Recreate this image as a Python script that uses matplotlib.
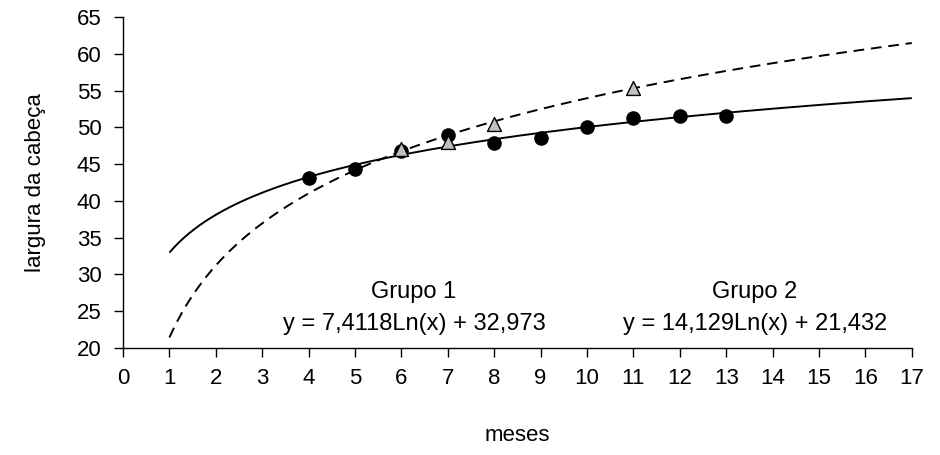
import numpy as np
import matplotlib
matplotlib.use("Agg")
import matplotlib.pyplot as plt

plt.rcParams['font.family'] = ['Liberation Sans', 'DejaVu Sans']

# Observed head widths by month
meses_g1 = [4, 5, 6, 7, 8, 9, 10, 11, 12, 13]
largura_g1 = [43.1, 44.4, 46.8, 49.0, 47.9, 48.6, 50.0, 51.3, 51.6, 51.6]
meses_g2 = [6, 7, 8, 11]
largura_g2 = [47.0, 48.0, 50.5, 55.3]

# Logarithmic trend coefficients: y = a*ln(x) + b
coef_g1 = (7.4118, 32.973)
coef_g2 = (14.129, 21.432)

x_ticks = list(range(0, 18))
y_ticks = list(range(20, 66, 5))

fig = plt.figure(figsize=(9.4, 4.55), dpi=100)
ax = fig.add_axes([0.1309, 0.2352, 0.970 - 0.1309, 0.9626 - 0.2352])

xs = np.linspace(1, 17, 300)
ax.plot(xs, coef_g1[0] * np.log(xs) + coef_g1[1], color='black', lw=1.4,
        solid_capstyle='butt', zorder=2)
ax.plot(xs, coef_g2[0] * np.log(xs) + coef_g2[1], color='black', lw=1.4,
        dashes=(5.5, 3.5), zorder=2)

ax.scatter(meses_g1, largura_g1, s=90, color='black', zorder=3)
ax.scatter(meses_g2, largura_g2, s=100, marker='^', facecolor='#c0c0c0',
           edgecolor='black', linewidths=1.0, zorder=4)

ax.set_xlim(0, 17)
ax.set_ylim(20, 65)
ax.set_xticks(x_ticks)
ax.set_yticks(y_ticks)
ax.tick_params(axis='both', labelsize=16, length=6.5, width=1.0, direction='out')
ax.tick_params(axis='x', pad=8)
ax.tick_params(axis='y', pad=9)
for side in ('top', 'right'):
    ax.spines[side].set_visible(False)
for side in ('left', 'bottom'):
    ax.spines[side].set_linewidth(1.0)

ax.set_xlabel('meses', fontsize=16, labelpad=26)
ax.set_ylabel('largura da cabeça', fontsize=16, labelpad=22)

ax.text(6.27, 26.8, 'Grupo 1', fontsize=17, ha='center', va='baseline')
ax.text(6.27, 22.45, 'y = 7,4118Ln(x) + 32,973', fontsize=17, ha='center', va='baseline')
ax.text(13.62, 26.8, 'Grupo 2', fontsize=17, ha='center', va='baseline')
ax.text(13.62, 22.45, 'y = 14,129Ln(x) + 21,432', fontsize=17, ha='center', va='baseline')

fig.savefig('out.png', dpi=100)
